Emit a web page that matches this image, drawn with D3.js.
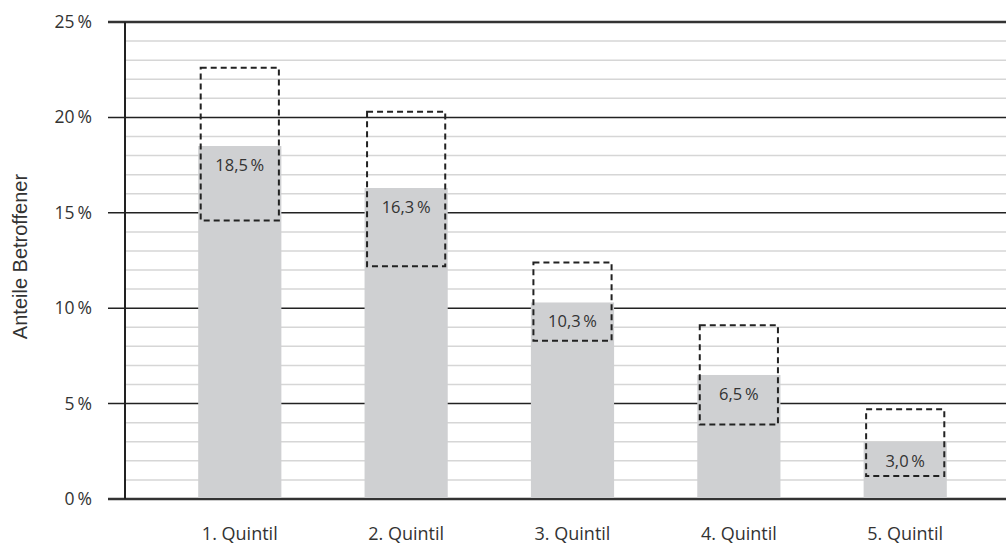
<!DOCTYPE html>
<html>
<head>
<meta charset="utf-8">
<script src="https://cdn.jsdelivr.net/npm/d3@7"></script>
<style>
  body { margin: 0; background: #fff; }
  text { font-family: "Open Sans", sans-serif; fill: #333; }
</style>
</head>
<body>
<div id="chart"></div>
<script>
//------Daten
const kategorien = ["1. Quintil", "2. Quintil", "3. Quintil", "4. Quintil", "5. Quintil"];
const anteile = [18.5, 16.3, 10.3, 6.5, 3.0];
const obereGrenze = [22.6, 20.3, 12.4, 9.1, 4.7];
const untereGrenze = [14.6, 12.2, 8.3, 3.9, 1.2];
const hauptTicks = [0, 5, 10, 15, 20, 25];
const nebenTicks = d3.range(1, 25).filter(d => d % 5 != 0);

const data = kategorien.map((k, i) => ({
  name: k,
  wert: anteile[i],
  oben: obereGrenze[i],
  unten: untereGrenze[i]
}));

const format = v => v.toFixed(1).replace(".", ",") + "\u2009%";

//------SVG
const svg = d3.select("#chart")
  .append("svg")
  .attr("width", 1006)
  .attr("height", 546);

const margin = { left: 125, right: 1006, top: 22, bottom: 499 };

const yScale = d3.scaleLinear().domain([0, 25]).range([margin.bottom, margin.top]);
const xScale = d3.scaleBand()
  .domain(kategorien)
  .range([margin.left, 1020])
  .paddingInner(0.5)
  .paddingOuter(0.44);

//------Hilfslinien (1 %)
svg.append("g")
  .selectAll("line")
  .data(nebenTicks)
  .enter()
  .append("line")
  .attr("x1", margin.left)
  .attr("x2", margin.right)
  .attr("y1", d => yScale(d))
  .attr("y2", d => yScale(d))
  .attr("stroke", "#d6d6d6")
  .attr("stroke-width", 1.5);

//------Hauptlinien (5 %)
svg.append("g")
  .selectAll("line")
  .data(hauptTicks)
  .enter()
  .append("line")
  .attr("x1", 108)
  .attr("x2", margin.right)
  .attr("y1", d => yScale(d))
  .attr("y2", d => yScale(d))
  .attr("stroke", d => (d == 0 || d == 25) ? "#333" : "#222")
  .attr("stroke-width", d => (d == 0 || d == 25) ? 2.5 : 1.5);

//------Beschriftung y-Achse
svg.append("g")
  .selectAll("text")
  .data(hauptTicks)
  .enter()
  .append("text")
  .attr("x", 92)
  .attr("y", d => yScale(d) + 6)
  .attr("text-anchor", "end")
  .style("font-size", "17.5px")
  .text(d => d + "\u2009%");

//------Balken
svg.append("g")
  .selectAll("rect")
  .data(data)
  .enter()
  .append("rect")
  .attr("x", d => xScale(d.name))
  .attr("width", xScale.bandwidth())
  .attr("y", d => yScale(d.wert))
  .attr("height", d => yScale(0) - yScale(d.wert) - 1)
  .attr("fill", "#cfd0d2");

//------y-Achse
svg.append("line")
  .attr("x1", margin.left)
  .attr("x2", margin.left)
  .attr("y1", yScale(25))
  .attr("y2", yScale(0))
  .attr("stroke", "#222")
  .attr("stroke-width", 2);

//------Konfidenzintervalle (gestrichelt)
svg.append("g")
  .selectAll("rect")
  .data(data)
  .enter()
  .append("rect")
  .attr("x", d => xScale(d.name) + 2.5)
  .attr("width", xScale.bandwidth() - 5)
  .attr("y", d => yScale(d.oben))
  .attr("height", d => yScale(d.unten) - yScale(d.oben))
  .attr("fill", "none")
  .attr("stroke", "#222")
  .attr("stroke-width", 2)
  .attr("stroke-dasharray", "6,4");

//------Werte
svg.append("g")
  .selectAll("text")
  .data(data)
  .enter()
  .append("text")
  .attr("x", d => xScale(d.name) + xScale.bandwidth() / 2)
  .attr("y", d => yScale(d.wert) + 25)
  .attr("text-anchor", "middle")
  .style("font-size", "16.5px")
  .text(d => format(d.wert));

//------Kategorien
svg.append("g")
  .selectAll("text")
  .data(data)
  .enter()
  .append("text")
  .attr("x", d => xScale(d.name) + xScale.bandwidth() / 2)
  .attr("y", 540)
  .attr("text-anchor", "middle")
  .style("font-size", "18px")
  .text(d => d.name);

//------Achsentitel
svg.append("text")
  .attr("transform", `translate(27,${(170 + 343) / 2})rotate(-90)`)
  .attr("text-anchor", "middle")
  .style("font-family", "'Liberation Sans', Arial, sans-serif")
  .style("font-size", "20px")
  .text("Anteile Betroffener");
</script>
</body>
</html>
